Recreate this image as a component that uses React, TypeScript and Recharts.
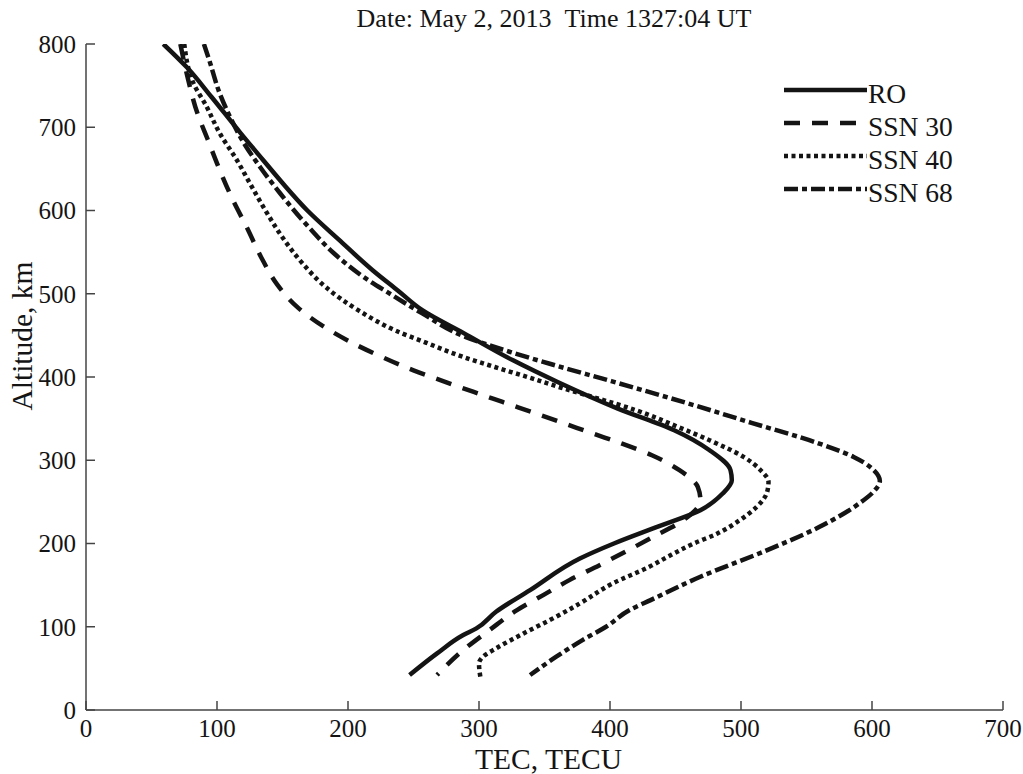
import React from 'react';
import { LineChart, Line, XAxis, YAxis, Legend, Label } from 'recharts';

const FONT = '"Liberation Serif", "Times New Roman", "DejaVu Serif", serif';
const INK = '#141414';

const xTicks = [0, 100, 200, 300, 400, 500, 600, 700];
const yTicks = [0, 100, 200, 300, 400, 500, 600, 700, 800];

const titleText = 'Date: May 2, 2013\u00a0\u00a0Time 1327:04 UT';
const xLabel = 'TEC, TECU';
const yLabel = 'Altitude, km';

const seriesNames = ['RO', 'SSN 30', 'SSN 40', 'SSN 68'];
const seriesDash = ['', '16 12', '4 3.5', '14 4 5 4'];

// RO (radio occultation)
const roAlt = [800, 772, 736, 693, 661, 633, 600, 565, 528, 504, 480, 453, 420, 394, 362, 336, 312, 288, 276, 260, 240, 220, 200, 182, 144, 118, 98, 90, 68, 42];
const roTec = [59, 77, 96, 118, 135, 150, 169, 193, 219, 238, 257, 288, 326, 360, 406, 449, 476, 492, 493, 486, 469, 436, 403, 377, 339, 313, 298, 288, 268, 247];

// SSN 30
const ssn30Alt = [800, 757, 717, 685, 649, 613, 579, 543, 511, 483, 459, 442, 424, 408, 396, 382, 370, 358, 346, 332, 320, 306, 288, 268, 252, 228, 208, 192, 174, 156, 138, 120, 96, 72, 42];
const ssn30Tec = [72, 78, 85, 93, 102, 112, 123, 134, 146, 162, 183, 202, 226, 250, 271, 296, 318, 340, 362, 387, 409, 432, 453, 467, 469, 456, 433, 414, 392, 369, 349, 329, 308, 288, 268];

// SSN 40
const ssn40Alt = [800, 753, 725, 693, 661, 633, 600, 570, 537, 508, 480, 456, 441, 424, 412, 400, 387, 375, 360, 340, 324, 304, 288, 274, 262, 244, 228, 212, 200, 184, 172, 152, 128, 108, 92, 74, 64, 56, 40];
const ssn40Tec = [75, 82, 92, 102, 115, 125, 137, 149, 165, 183, 208, 236, 260, 288, 312, 337, 363, 389, 420, 452, 476, 502, 515, 521, 520, 512, 499, 482, 464, 444, 430, 402, 377, 354, 334, 313, 303, 300, 301];

// SSN 68
const ssn68Alt = [800, 781, 741, 709, 685, 652, 621, 580, 549, 520, 501, 477, 448, 430, 415, 395, 369, 345, 321, 304, 290, 275, 262, 249, 220, 192, 160, 132, 120, 100, 84, 64, 42];
const ssn68Tec = [90, 94, 102, 111, 119, 133, 148, 170, 189, 212, 231, 256, 290, 324, 356, 401, 458, 508, 558, 586, 600, 606, 601, 591, 560, 520, 469, 431, 415, 397, 379, 359, 339];

const toPoints = (tec: number[], alt: number[]) => tec.map((t, i) => ({ tec: t, alt: alt[i] }));

const seriesData = [
  toPoints(roTec, roAlt),
  toPoints(ssn30Tec, ssn30Alt),
  toPoints(ssn40Tec, ssn40Alt),
  toPoints(ssn68Tec, ssn68Alt),
];

const renderLegend = () => (
  <svg width={200} height={140} style={{ overflow: 'visible', display: 'block' }}>
    {seriesNames.map((name, i) => (
      <g key={name}>
        <line x1={0} x2={83} y1={16 + i * 33} y2={16 + i * 33} stroke={INK} strokeWidth={4.5}
          strokeDasharray={seriesDash[i] || undefined} />
        <text x={84} y={16 + i * 33 + 3} fontSize={27.5} fontFamily={FONT} fill={INK} dominantBaseline="central">{name}</text>
      </g>
    ))}
  </svg>
);

const yLabelContent = (props: any) => {
  const vb = props.viewBox;
  const cx = vb.x + 22;
  const cy = vb.y + vb.height / 2 - 41;
  return (
    <text x={cx} y={cy} transform={`rotate(-90, ${cx}, ${cy})`} textAnchor="middle" dominantBaseline="central"
      fontSize={29.5} fontFamily={FONT} fill={INK}>{yLabel}</text>
  );
};

const xLabelContent = (props: any) => {
  const vb = props.viewBox;
  return (
    <text x={vb.x + vb.width / 2 + 4} y={vb.y + 49} textAnchor="middle" dominantBaseline="central"
      fontSize={29.5} fontFamily={FONT} fill={INK}>{xLabel}</text>
  );
};

export default function App() {
  return (
    <div style={{ position: 'absolute', left: 0, top: 0, width: 1023, height: 774, background: '#fff', fontFamily: FONT }}>
      <div style={{ position: 'absolute', left: 254, top: 6, width: 600, textAlign: 'center', fontSize: 26, lineHeight: '26px', color: INK, whiteSpace: 'pre' }}>
        {titleText}
      </div>
      <div style={{ position: 'absolute', left: 0, top: 0 }}>
        <LineChart width={1023} height={774} margin={{ top: 44, right: 20, bottom: 0, left: 0 }}>
          <XAxis type="number" dataKey="tec" domain={[0, 700]} ticks={xTicks} interval={0} height={64}
            allowDataOverflow
            axisLine={{ stroke: '#444', strokeWidth: 1.5 }} tickLine={{ stroke: '#444', strokeWidth: 1.5 }}
            tickSize={-9} tickMargin={18}
            tick={{ fontSize: 25, fill: INK, fontFamily: FONT }}>
            <Label content={xLabelContent} />
          </XAxis>
          <YAxis type="number" dataKey="alt" domain={[0, 800]} ticks={yTicks} interval={0} width={86}
            allowDataOverflow
            axisLine={{ stroke: '#444', strokeWidth: 1.5 }} tickLine={{ stroke: '#444', strokeWidth: 1.5 }}
            tickSize={-9} tickMargin={19}
            tick={{ fontSize: 25, fill: INK, fontFamily: FONT }}>
            <Label content={yLabelContent} />
          </YAxis>
          <Legend layout="vertical" align="center" verticalAlign="middle" content={renderLegend}
            wrapperStyle={{ left: 784, top: 74, width: 200, height: 140 }} />
          {seriesNames.map((name, i) => (
            <Line key={name} name={name} data={seriesData[i]} dataKey="alt" type="monotoneY"
              stroke={INK} strokeWidth={4.5} strokeDasharray={seriesDash[i] || undefined}
              dot={false} activeDot={false} isAnimationActive={false} />
          ))}
        </LineChart>
      </div>
    </div>
  );
}
